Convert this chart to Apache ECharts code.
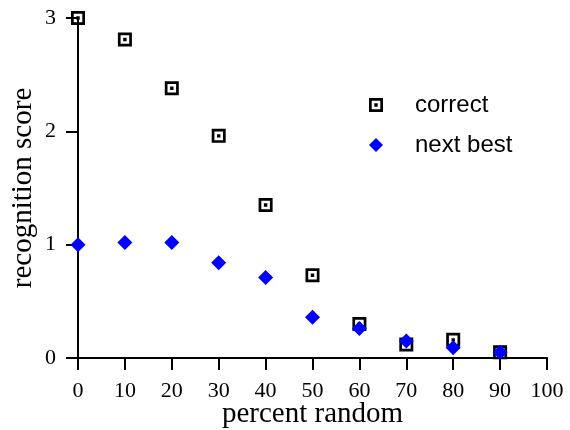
<!DOCTYPE html>
<html>
<head>
<meta charset="utf-8">
<script src="https://cdn.jsdelivr.net/npm/echarts@6/dist/echarts.min.js"></script>
<style>
	html, body { margin: 0; padding: 0; background: #fff; }
	#chart { width: 570px; height: 430px; }
</style>
</head>
<body>
<div id="chart"></div>
<script>
// percent random (x) for each point
var percentRandom = [0, 10, 20, 30, 40, 50, 60, 70, 80, 90];
// recognition score
var correctScore = [3.0, 2.81, 2.38, 1.96, 1.35, 0.73, 0.30, 0.12, 0.16, 0.05];
var nextBestScore = [1.0, 1.02, 1.02, 0.84, 0.71, 0.36, 0.26, 0.15, 0.09, 0.05];
var seriesNames = ['correct', 'next best'];

// square with a hole and a dot in the middle (nonzero winding)
var SQUARE_DOT = 'path://M0 0H14V14H0Z M2.7 2.7V11.3H11.3V2.7Z M5.3 5.3H8.7V8.7H5.3Z';

var SERIF = '"Liberation Serif", "Times New Roman", serif';
var SANS = '"Liberation Sans", Arial, sans-serif';

function toPairs(xs, ys) {
	var arr = [];
	for(var i=0; i<xs.length; i++) {
		arr.push([xs[i], ys[i]]);
	}
	return arr;
}

function axisBase() {
	return {
		axisLine: { show: true, onZero: false, lineStyle: { color: '#000', width: 2 } },
		axisTick: { show: true, inside: false, length: 12, lineStyle: { color: '#000', width: 2 } },
		splitLine: { show: false },
		axisLabel: { color: '#000', fontFamily: SERIF, fontSize: 22, margin: 22 },
		nameMoveOverlap: false,
		nameTextStyle: { color: '#000', fontFamily: SERIF, fontSize: 29 }
	};
}

var xAxis = axisBase();
xAxis.type = 'value';
xAxis.min = 0;
xAxis.max = 100;
xAxis.interval = 10;
xAxis.name = 'percent random';
xAxis.nameLocation = 'middle';
xAxis.nameGap = 42;

var yAxis = axisBase();
yAxis.type = 'value';
yAxis.min = 0;
yAxis.max = 3;
yAxis.interval = 1;
yAxis.name = 'recognition score';
yAxis.nameLocation = 'middle';
yAxis.nameGap = 40;

var chart = echarts.init(document.getElementById('chart'), null, { renderer: 'canvas' });
chart.setOption({
	animation: false,
	backgroundColor: '#fff',
	grid: { left: 78, right: 23, top: 18, bottom: 72, containLabel: false, outerBoundsMode: 'none' },
	xAxis: xAxis,
	yAxis: yAxis,
	legend: {
		orient: 'vertical',
		left: 364,
		top: 88,
		itemWidth: 14,
		itemHeight: 14,
		itemGap: 16,
		textStyle: { color: '#000', fontFamily: SANS, fontSize: 24, padding: [0, 0, 0, 27] },
		data: [
			{ name: seriesNames[0], icon: SQUARE_DOT },
			{ name: seriesNames[1], icon: 'diamond' }
		]
	},
	series: [{
		name: seriesNames[0],
		type: 'scatter',
		symbol: SQUARE_DOT,
		symbolSize: 14,
		symbolKeepAspect: true,
		clip: false,
		itemStyle: { color: '#000', opacity: 1 },
		data: toPairs(percentRandom, correctScore)
	}, {
		name: seriesNames[1],
		type: 'scatter',
		symbol: 'diamond',
		symbolSize: 15,
		clip: false,
		itemStyle: { color: '#0000ff', opacity: 1 },
		data: toPairs(percentRandom, nextBestScore)
	}]
});
</script>
</body>
</html>
